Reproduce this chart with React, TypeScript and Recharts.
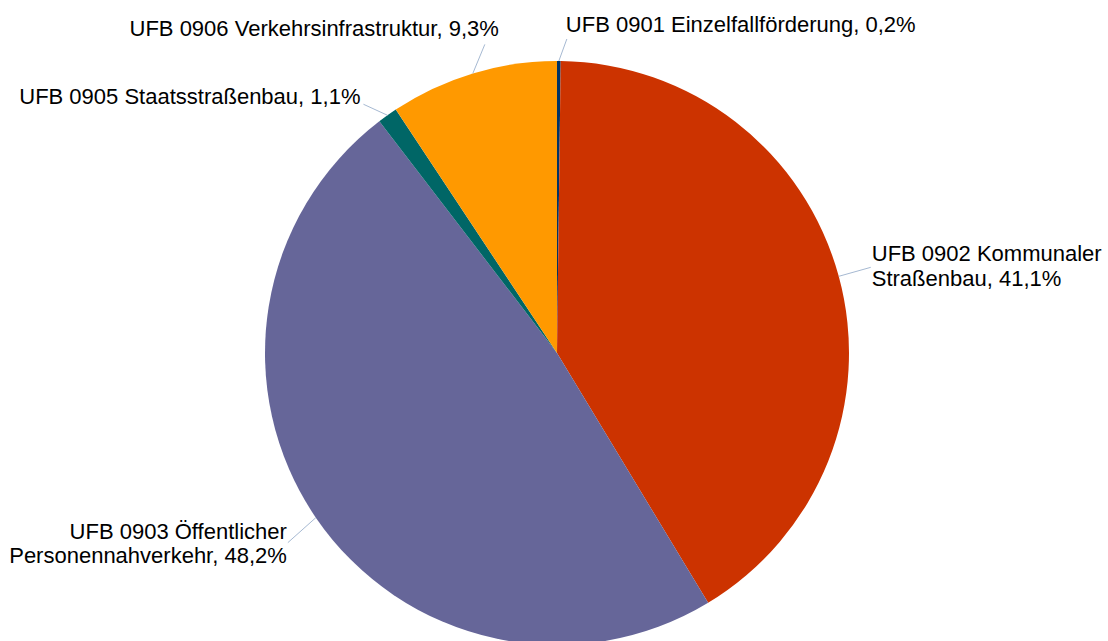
import React from "react";
import { PieChart, Pie, Cell } from "recharts";

const categories = [
  "UFB 0901 Einzelfallförderung",
  "UFB 0902 Kommunaler Straßenbau",
  "UFB 0903 Öffentlicher Personennahverkehr",
  "UFB 0905 Staatsstraßenbau",
  "UFB 0906 Verkehrsinfrastruktur",
];
const shares = [0.2, 41.1, 48.2, 1.1, 9.3];
const colors = ["#003366", "#CC3300", "#666699", "#006666", "#FF9900"];

// label layout: leader line end offset from slice edge, text offset from line end, anchor, wrap
const labelLayout = [
  { lx: 8, ly: -22, tx: -1, ty: -7, anchor: "start", wrap: 0 },
  { lx: 32, ly: -9, tx: 1, ty: -6, anchor: "start", wrap: 3 },
  { lx: -28, ly: 25, tx: -1, ty: -4, anchor: "end", wrap: 3 },
  { lx: -24, ly: -11, tx: -3, ty: 0, anchor: "end", wrap: 0 },
  { lx: 12, ly: -29, tx: 14, ty: -8, anchor: "end", wrap: 0 },
];

const data = categories.map((name, i) => ({ name, value: shares[i] }));

const FONT = "'Liberation Sans', Arial, sans-serif";
const RAD = Math.PI / 180;

const renderLabel = (props: any) => {
  const { cx, cy, midAngle, outerRadius, name } = props;
  let index = props.index;
  if (index === undefined) index = categories.indexOf(name);
  const lay = labelLayout[index];
  const ex = cx + outerRadius * Math.cos(midAngle * RAD);
  const ey = cy - outerRadius * Math.sin(midAngle * RAD);
  const lx = ex + lay.lx;
  const ly = ey + lay.ly;
  const pct = shares[index].toFixed(1).replace(".", ",") + "%";
  const full = `${categories[index]}, ${pct}`;
  let lines = [full];
  if (lay.wrap > 0) {
    const words = full.split(" ");
    lines = [words.slice(0, lay.wrap).join(" "), words.slice(lay.wrap).join(" ")];
  }
  return (
    <g key={`lbl-${index}`}>
      <line x1={ex} y1={ey} x2={lx} y2={ly} stroke="#A6B9D2" strokeWidth={1} />
      <text
        x={lx + lay.tx}
        y={ly + lay.ty}
        textAnchor={lay.anchor}
        fontFamily={FONT}
        fontSize={22}
        fill="#000"
      >
        {lines.map((t, k) => (
          <tspan key={k} x={lx + lay.tx} dy={k === 0 ? 0 : 24.5}>
            {t}
          </tspan>
        ))}
      </text>
    </g>
  );
};

export default function App() {
  return (
    <div style={{ position: "absolute", left: 0, top: 0, width: 1108, height: 641, background: "#fff" }}>
      <PieChart width={1108} height={641} margin={{ top: 0, right: 0, bottom: 0, left: 0 }}>
        <Pie
          data={data}
          dataKey="value"
          nameKey="name"
          cx={557}
          cy={353}
          outerRadius={292}
          startAngle={90}
          endAngle={-270}
          stroke="none"
          label={renderLabel}
          labelLine={false}
          isAnimationActive={false}
        >
          {data.map((d, i) => (
            <Cell key={d.name} fill={colors[i]} />
          ))}
        </Pie>
      </PieChart>
    </div>
  );
}
